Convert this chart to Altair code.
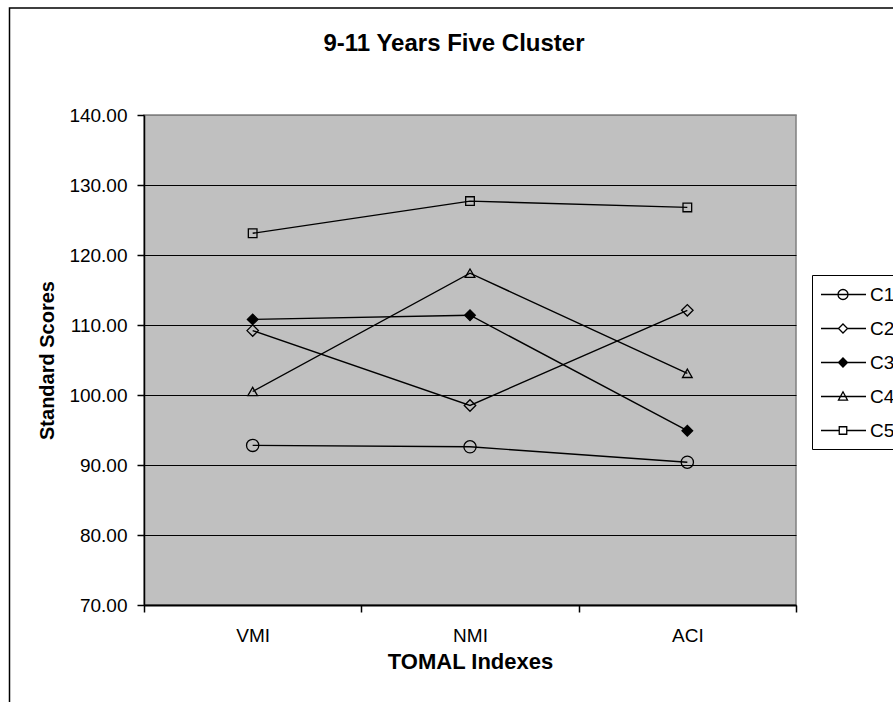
import altair as alt
import pandas as pd

# TOMAL index categories and cluster mean standard scores
indexes = ["VMI", "NMI", "ACI"]
clusters = ["C1", "C2", "C3", "C4", "C5"]
c1_scores = [92.8, 92.6, 90.4]
c2_scores = [109.2, 98.5, 112.1]
c3_scores = [110.8, 111.4, 94.9]
c4_scores = [100.5, 117.4, 103.1]
c5_scores = [123.1, 127.7, 126.8]
y_ticks = [70, 80, 90, 100, 110, 120, 130, 140]

rows = []
for name, vals in zip(clusters, [c1_scores, c2_scores, c3_scores, c4_scores, c5_scores]):
    for idx, v in zip(indexes, vals):
        rows.append({"index": idx, "cluster": name, "score": v})
df = pd.DataFrame(rows)

FONT = "Liberation Sans"
W, H = 652, 490
LEFT, TOP = 144, 115

# marker styling per cluster
point_shapes = ["circle", "diamond", "diamond", "triangle-up", "square"]
point_sizes = [150, 75, 75, 90, 70]
point_fills = ["transparent", "transparent", "black", "transparent", "transparent"]
point_strokes = ["black"] * 5

# legend glyphs: a horizontal line with the marker drawn on it
# (path units are half the symbol width; marker sits right of the symbol centre)
legend_shapes = [
    "M-1,0L3.286,0M0.619,0A0.476,0.476 0 1,0 1.571,0A0.476,0.476 0 1,0 0.619,0Z",
    "M-1,0L0.665,0M1.525,0L3.286,0M0.665,0L1.095,-0.43L1.525,0L1.095,0.43Z",
    "M-1,0L3.286,0M0.665,0L1.095,-0.43L1.525,0L1.095,0.43Z",
    "M-1,0L3.286,0M0.665,0.35L1.095,-0.45L1.525,0.35Z",
    "M-1,0L0.738,0M1.452,0L3.286,0M0.738,-0.357L1.452,-0.357L1.452,0.357L0.738,0.357Z",
]

x_enc = alt.X(
    "index:N",
    sort=indexes,
    scale=alt.Scale(type="band", paddingInner=0, paddingOuter=0),
    axis=alt.Axis(
        title="TOMAL Indexes",
        labelAngle=0,
        tickBand="extent",
        tickSize=7,
        tickColor="black",
        tickWidth=1.5,
        domainColor="black",
        domainWidth=2,
        labelPadding=14,
        labelFontSize=19,
        labelColor="black",
        labelFont=FONT,
        titleFont=FONT,
        titleFontSize=22,
        titleFontWeight="bold",
        titleColor="black",
        titleX=W / 2,
        titleY=63,
        titleBaseline="alphabetic",
        grid=False,
    ),
)
y_enc = alt.Y(
    "score:Q",
    scale=alt.Scale(domain=[70, 140], nice=False, zero=False),
    axis=alt.Axis(
        title="Standard Scores",
        values=y_ticks,
        format=".2f",
        tickSize=7,
        tickColor="black",
        tickWidth=1.5,
        domainColor="black",
        domainWidth=1.5,
        labelPadding=10,
        labelFontSize=19,
        labelColor="black",
        labelFont=FONT,
        titleFont=FONT,
        titleFontSize=20,
        titleFontWeight="bold",
        titleColor="black",
        titleX=-97,
        titleY=H / 2,
        titleBaseline="middle",
        grid=True,
        gridColor={"condition": {"test": "datum.value == 140", "value": "#808080"}, "value": "black"},
        gridWidth=1.2,
    ),
)

base = alt.Chart(df)

lines = base.mark_line(color="black", strokeWidth=1.4).encode(
    x=x_enc, y=y_enc, detail="cluster:N"
)

points = base.mark_point(filled=True, stroke="black", strokeWidth=1.3, opacity=1).encode(
    x=x_enc,
    y=y_enc,
    shape=alt.Shape("cluster:N", scale=alt.Scale(domain=clusters, range=point_shapes), legend=None),
    fill=alt.Fill("cluster:N", scale=alt.Scale(domain=clusters, range=point_fills), legend=None),
    size=alt.Size("cluster:O", scale=alt.Scale(domain=clusters, range=point_sizes), legend=None),
)

legend_def = alt.Legend(
    title=None,
    orient="none",
    legendX=668,
    legendY=160,
    strokeColor="black",
    fillColor="white",
    padding=8,
    labelFont=FONT,
    labelFontSize=19,
    labelColor="black",
    labelOffset=27,
    rowPadding=12,
    symbolStrokeWidth=1.3,
    symbolStrokeColor="black",
    symbolSize=441,
)

legend_layer = (
    base.transform_filter("false")
    .mark_point(filled=True, stroke="black", strokeWidth=1.3, opacity=1, size=441)
    .encode(
        shape=alt.Shape("cluster:N", scale=alt.Scale(domain=clusters, range=legend_shapes), legend=legend_def),
        fill=alt.Fill("cluster:N", scale=alt.Scale(domain=clusters, range=point_fills), legend=legend_def),
        stroke=alt.Stroke("cluster:N", scale=alt.Scale(domain=clusters, range=point_strokes), legend=legend_def),
    )
)

# outer frame around the whole figure
frame = alt.Chart(pd.DataFrame({"k": [0]})).mark_rect(
    fill="white", fillOpacity=0, stroke="black", strokeWidth=1.5
).encode(
    x=alt.value(9.5 - LEFT),
    x2=alt.value(960 - LEFT),
    y=alt.value(8 - TOP),
    y2=alt.value(760 - TOP),
)

chart = (
    alt.layer(frame, lines, points, legend_layer)
    .resolve_scale(shape="independent", fill="independent", stroke="independent")
    .properties(
        width=W,
        height=H,
        padding={"left": LEFT, "top": TOP, "right": 893 - LEFT - W, "bottom": 702 - TOP - H},
        autosize=alt.AutoSizeParams(type="none"),
        background="white",
        view=alt.ViewBackground(fill="#C0C0C0", stroke="#808080", strokeWidth=1.5),
        title=alt.TitleParams(
            text="9-11 Years Five Cluster",
            font=FONT,
            fontSize=24,
            fontWeight="bold",
            color="black",
            anchor="middle",
            frame="group",
            baseline="alphabetic",
            offset=0,
            dx=-16,
            dy=68,
        ),
    )
    .configure_view(fill="#C0C0C0", stroke="#808080", strokeWidth=1.5)
)

chart.save("out.html", embed_options={"renderer": "svg", "actions": False})
